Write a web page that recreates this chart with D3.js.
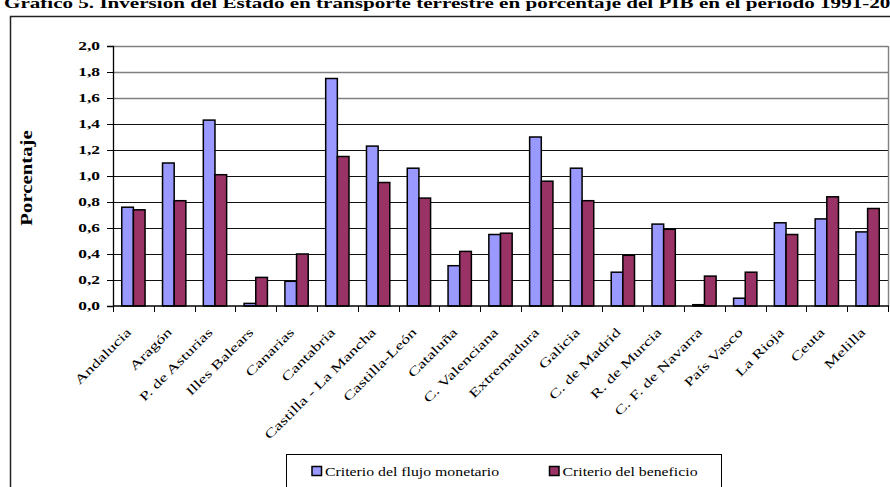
<!doctype html>
<html lang="es">
<head>
<meta charset="utf-8">
<title>Gráfico 5</title>
<script src="https://cdn.jsdelivr.net/npm/d3@7"></script>
<style>
  body { margin: 0; background: #fff; }
  svg { display: block; font-family: "Liberation Serif", "Times New Roman", serif; }
  svg text { font-family: "Liberation Serif", "Times New Roman", serif; }
</style>
</head>
<body>
<div id="chart"></div>
<script>
// data
var regiones = ["Andalucia", "Aragón", "P. de Asturias", "Illes Balears", "Canarias", "Cantabria",
  "Castilla - La Mancha", "Castilla-León", "Cataluña", "C. Valenciana", "Extremadura", "Galicia",
  "C. de Madrid", "R. de Murcia", "C. F. de Navarra", "País Vasco", "La Rioja", "Ceuta", "Melilla"];
var flujoMonetario = [0.76, 1.10, 1.43, 0.02, 0.19, 1.75, 1.23, 1.06, 0.31, 0.55, 1.30, 1.06,
  0.26, 0.63, 0.01, 0.06, 0.64, 0.67, 0.57];
var beneficio = [0.74, 0.81, 1.01, 0.22, 0.40, 1.15, 0.95, 0.83, 0.42, 0.56, 0.96, 0.81,
  0.39, 0.59, 0.23, 0.26, 0.55, 0.84, 0.75];
var series = ["Criterio del flujo monetario", "Criterio del beneficio"];
var yTicks = [0, 0.2, 0.4, 0.6, 0.8, 1.0, 1.2, 1.4, 1.6, 1.8, 2.0];

var colores = ["#9999ff", "#993366"];
var W = 890, H = 487;
var plot = {left: 113, right: 888, top: 46, bottom: 306};

// the texts in the original are drawn wider along their baseline
var stretch = function(sx) { return " scale(" + sx + ",1)"; };

var svg = d3.select("#chart").append("svg").attr("width", W).attr("height", H);

// title (cut at the top of the picture, as in the original)
svg.append("text")
    .attr("transform", "translate(4,8)" + stretch(1.36))
    .attr("font-size", "15.5px").attr("font-weight", "bold")
    .text("Gráfico 5. Inversión del Estado en transporte terrestre en porcentaje del PIB en el periodo 1991-2003");

// outer chart border
svg.append("rect")
    .attr("x", 10.5).attr("y", 16.5).attr("width", 900).attr("height", 500)
    .attr("fill", "none").attr("stroke", "#222").attr("stroke-width", 1.5);

var x = d3.scaleBand().domain(regiones).range([plot.left, plot.right]);
var xs = d3.scaleBand().domain([0, 1]).range([0, x.bandwidth()]).paddingInner(0).paddingOuter(0.75);
var y = d3.scaleLinear().domain([0, 2]).range([plot.bottom, plot.top]);

// gridlines
svg.append("g").selectAll("line").data(yTicks.filter(function(d) { return d > 0; })).enter()
    .append("line")
    .attr("x1", plot.left).attr("x2", plot.right)
    .attr("y1", function(d) { return Math.round(y(d)) + 0.5; })
    .attr("y2", function(d) { return Math.round(y(d)) + 0.5; })
    .attr("stroke", function(d) { return d >= 1.59 ? "#808080" : "#111"; })
    .attr("stroke-width", function(d) { return d >= 1.59 ? 1.4 : 1; });

// plot area right edge
svg.append("line")
    .attr("x1", plot.right + 0.5).attr("x2", plot.right + 0.5)
    .attr("y1", plot.top).attr("y2", plot.bottom)
    .attr("stroke", "#808080").attr("stroke-width", 1.4);

// bars
var grupos = svg.append("g").selectAll("g").data(regiones).enter().append("g")
    .attr("transform", function(d) { return "translate(" + x(d) + ",0)"; });

grupos.selectAll("rect")
    .data(function(d, i) { return [flujoMonetario[i], beneficio[i]]; })
    .enter().append("rect")
    .attr("x", function(d, j) { return xs(j); })
    .attr("width", xs.bandwidth())
    .attr("y", function(d) { return y(d); })
    .attr("height", function(d) { return y(0) - y(d); })
    .attr("fill", function(d, j) { return colores[j]; })
    .attr("stroke", "#000").attr("stroke-width", 1.5);

// y axis
var yAxis = svg.append("g")
    .attr("transform", "translate(" + plot.left + ",0)")
    .call(d3.axisLeft(y).tickValues(yTicks).tickSize(6).tickPadding(6)
        .tickFormat(function(d) { return d3.format(".1f")(d).replace(".", ","); }));
yAxis.select(".domain").attr("stroke", "#000").attr("stroke-width", 1.3);
yAxis.selectAll(".tick line").attr("stroke", "#000");
yAxis.selectAll("text")
    .attr("x", 0)
    .attr("transform", "translate(-13,0)" + stretch(1.45))
    .attr("font-family", "Liberation Serif, serif")
    .attr("font-size", "12px").attr("font-weight", "bold").attr("fill", "#000");

// x axis with ticks between categories
var xAxisG = svg.append("g").attr("transform", "translate(0," + plot.bottom + ")");
xAxisG.append("line")
    .attr("x1", plot.left).attr("x2", plot.right + 1)
    .attr("stroke", "#000").attr("stroke-width", 1.3);
xAxisG.selectAll(".tk").data(regiones.concat(["fin"])).enter().append("line")
    .attr("class", "tk")
    .attr("x1", function(d, i) { return Math.round(plot.left + i * x.step()) + 0.5; })
    .attr("x2", function(d, i) { return Math.round(plot.left + i * x.step()) + 0.5; })
    .attr("y1", 0).attr("y2", 6)
    .attr("stroke", "#000");
xAxisG.selectAll(".lbl").data(regiones).enter().append("text")
    .attr("class", "lbl")
    .attr("text-anchor", "end")
    .attr("font-size", "12.5px")
    .attr("transform", function(d) {
      return "translate(" + (x(d) + x.bandwidth() / 2 - 1.5) + ",27) rotate(-45)" + stretch(1.44);
    })
    .text(function(d) { return d; });

// axis title
svg.append("text")
    .attr("transform", "translate(31.5,178) rotate(-90)" + stretch(1.3))
    .attr("text-anchor", "middle")
    .attr("font-size", "16px").attr("font-weight", "bold")
    .text("Porcentaje");

// legend
var leg = svg.append("g");
leg.append("rect")
    .attr("x", 286.5).attr("y", 454.5).attr("width", 435).attr("height", 60)
    .attr("fill", "#fff").attr("stroke", "#000").attr("stroke-width", 1);
var legX = [312, 549.5];
series.forEach(function(s, i) {
  leg.append("rect")
      .attr("x", legX[i]).attr("y", 466.5).attr("width", 9.5).attr("height", 9)
      .attr("fill", colores[i]).attr("stroke", "#000").attr("stroke-width", 1.5);
  leg.append("text")
      .attr("transform", "translate(" + (legX[i] + 13) + ",476)" + stretch(1.17))
      .attr("font-size", "13.5px")
      .text(s);
});
</script>
</body>
</html>
